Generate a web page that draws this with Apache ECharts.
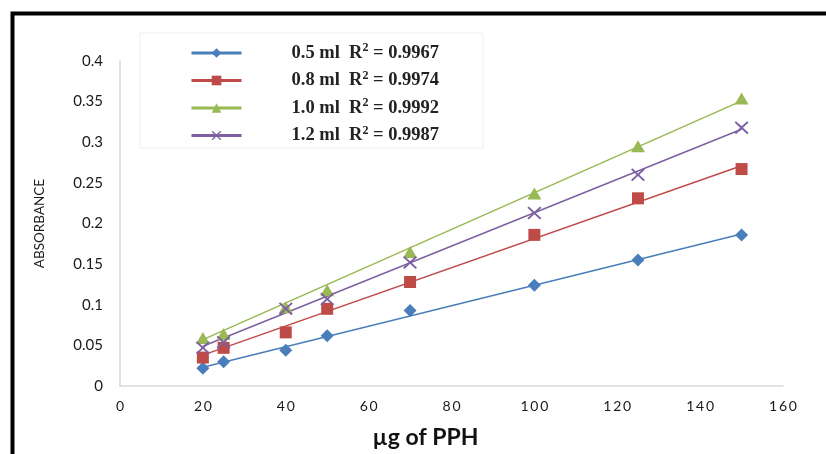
<!DOCTYPE html>
<html><head><meta charset="utf-8">
<script src="https://cdn.jsdelivr.net/npm/echarts@6/dist/echarts.min.js"></script>
<style>html,body{margin:0;padding:0;background:#fff}#c{width:826px;height:454px}</style>
</head><body><div id="c"></div>
<script>
// ---- data ----
const concX = [20, 25, 40, 50, 70, 100, 125, 150];
const abs05 = [0.022, 0.030, 0.044, 0.062, 0.093, 0.124, 0.155, 0.186];
const abs08 = [0.035, 0.047, 0.066, 0.095, 0.128, 0.186, 0.231, 0.267];
const abs10 = [0.059, 0.064, 0.097, 0.118, 0.165, 0.237, 0.295, 0.354];
const abs12 = [0.047, 0.054, 0.095, 0.107, 0.152, 0.213, 0.260, 0.318];
// trendline end points (x = 20 and x = 150)
const trendX = [20, 150];
const trend05 = [0.023, 0.187];
const trend08 = [0.038, 0.271];
const trend10 = [0.057, 0.351];
const trend12 = [0.049, 0.316];
const seriesNames = ['0.5 ml', '0.8 ml', '1.0 ml', '1.2 ml'];
const rSquared = ['0.9967', '0.9974', '0.9992', '0.9987'];
const xTicks = [0, 20, 40, 60, 80, 100, 120, 140, 160];
const yTicks = [0, 0.05, 0.1, 0.15, 0.2, 0.25, 0.3, 0.35, 0.4];

const colors = ['#4a7ebb', '#be4b48', '#98b954', '#7d60a0'];
const xPath = 'path://M0,1L1,0L5,4L9,0L10,1L6,5L10,9L9,10L5,6L1,10L0,9L4,5Z';
const symbols = ['diamond', 'rect', 'triangle', xPath];
const symSizes = [[13, 13], [12, 12], [14, 12], [14, 13]];
const values = [abs05, abs08, abs10, abs12];
const trends = [trend05, trend08, trend10, trend12];

const series = [];
seriesNames.forEach((n, i) => {
  series.push({
    name: n, type: 'line', symbol: symbols[i], showSymbol: false, silent: true,
    data: trendX.map((x, k) => [x, trends[i][k]]),
    lineStyle: { color: colors[i], width: 1.5 }, itemStyle: { color: colors[i] }, z: 2
  });
});
seriesNames.forEach((n, i) => {
  series.push({
    name: n + ' data', type: 'scatter', symbol: symbols[i], symbolSize: symSizes[i],
    data: concX.map((x, k) => [x, values[i][k]]),
    itemStyle: { color: colors[i], opacity: 1 }, z: 3
  });
});

const chart = echarts.init(document.getElementById('c'), null, { renderer: 'canvas' });
chart.setOption({
  animation: false,
  backgroundColor: '#fff',
  grid: { left: 120, right: 43, top: 61, bottom: 68 },
  xAxis: {
    type: 'value', min: 0, max: 160, interval: 20,
    axisLine: { show: true, lineStyle: { color: '#d9d9d9', width: 1.5 } },
    axisTick: { show: false }, splitLine: { show: false },
    axisLabel: {
      margin: 13, fontFamily: 'Lato', fontSize: 14, color: '#1a1a1a',
      formatter: v => String(v).split('').join('\u2009')
    },
    name: 'µg of PPH', nameLocation: 'middle', nameGap: 40,
    nameTextStyle: { fontFamily: 'Lato', fontWeight: 'bold', fontSize: 23, color: '#111', padding: [0, 52, 0, 0] }
  },
  yAxis: {
    type: 'value', min: 0, max: 0.4, interval: 0.05,
    axisLine: { show: true, lineStyle: { color: '#d9d9d9', width: 1.5 } },
    axisTick: { show: false }, splitLine: { show: false },
    axisLabel: { margin: 17, fontFamily: 'Lato', fontSize: 15, color: '#1a1a1a', formatter: v => String(+v.toFixed(2)) },
    name: 'ABSORBANCE', nameLocation: 'middle', nameGap: 73, nameRotate: 90,
    nameTextStyle: { fontFamily: 'Lato', fontSize: 13.5, color: '#1a1a1a' }
  },
  legend: {
    data: seriesNames, orient: 'vertical', left: 190, top: 42, padding: 0,
    itemWidth: 50, itemHeight: 12, itemGap: 7, selectedMode: false,
    lineStyle: { width: 3 },
    formatter: name => {
      const i = seriesNames.indexOf(name);
      return '{p|}{a|' + name + '  R}{s|2}{a| = ' + rSquared[i] + '}';
    },
    textStyle: {
      rich: {
        p: { width: 45 },
        a: { fontFamily: 'Liberation Serif', fontWeight: 'bold', fontSize: 18.5, color: '#222', lineHeight: 22 },
        s: { fontFamily: 'Liberation Serif', fontWeight: 'bold', fontSize: 12, color: '#222', lineHeight: 13, verticalAlign: 'top' }
      }
    },
    z: 10
  },
  graphic: [
    { type: 'rect', shape: { x: 140, y: 33, width: 343, height: 115 }, style: { fill: '#fff', stroke: '#eeeeee', lineWidth: 1 }, z: 5 },
    { type: 'rect', shape: { x: 12.5, y: 13.5, width: 900, height: 600 }, style: { fill: 'none', stroke: '#000', lineWidth: 4 }, z: 20, silent: true }
  ],
  series: series
});
</script>
</body></html>
